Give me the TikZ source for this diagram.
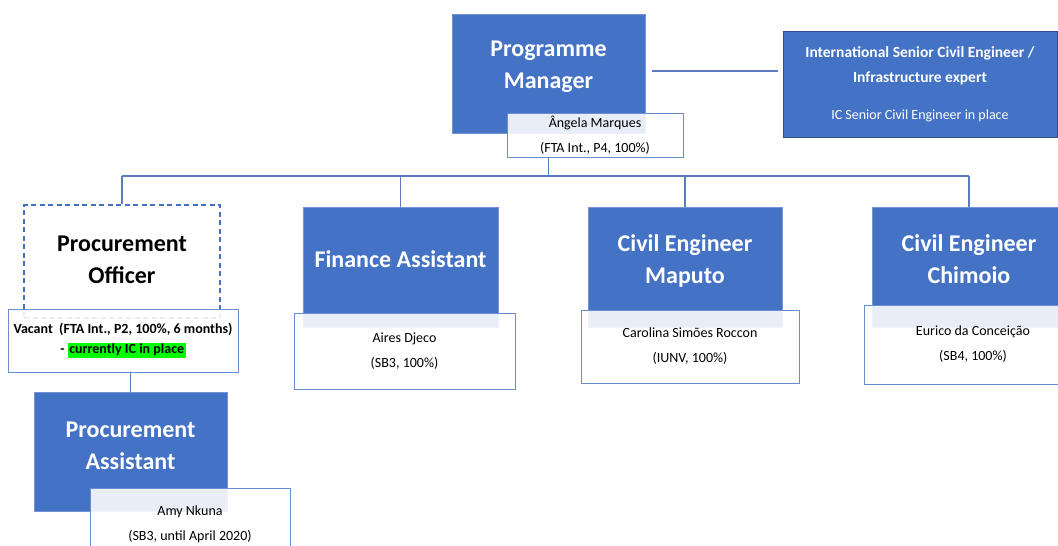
\documentclass[tikz,border=0pt]{standalone}
\usepackage{fontspec}
\setmainfont{Carlito}
\definecolor{boxblue}{HTML}{4472C4}
\definecolor{edgeblue}{HTML}{2F528F}
\definecolor{lineblue}{HTML}{5A7BBE}
\definecolor{hlgreen}{HTML}{00FF00}

\tikzset{
  post/.style={draw=boxblue!75, fill=boxblue, line width=0.8pt, inner sep=0pt},
  vacant/.style={draw=boxblue, dash pattern=on 5pt off 3.5pt, line width=1.5pt, inner sep=0pt},
  title/.style={text=white, font=\fontsize{24}{32}\selectfont\bfseries, align=center},
  holder/.style={draw=boxblue!80, fill=white, fill opacity=0.88, text opacity=1,
    line width=0.9pt, inner sep=0pt, align=center, font=\fontsize{14}{25}\selectfont},
  conn/.style={draw=lineblue, line width=1.6pt}
}

\begin{document}
\begin{tikzpicture}[x=1pt,y=-1pt]
  \useasboundingbox (0,0) rectangle (1058,546);
  % programme manager and expert
  \node[post, minimum width=193pt, minimum height=119pt] (pm) at (548.5,73.5) {};
  \node[title] (pm-t) at (548.5,67) {Programme\\Manager};
  \node[holder, minimum width=176pt, minimum height=44pt] (pm-n) at (595,135) {Ângela Marques\\(FTA Int., P4, 100\%)};
  \node[post, draw=edgeblue, minimum width=274pt, minimum height=106pt, align=center, text=white,
    font=\fontsize{14}{25}\selectfont] (isce) at (920,84)
    {\textbf{\fontsize{15.5}{25}\selectfont International Senior Civil Engineer /}\\
     \textbf{\fontsize{15.5}{25}\selectfont Infrastructure expert}\\[12pt]IC Senior Civil Engineer in place};

  % procurement
  \node[vacant, minimum width=196pt, minimum height=113pt] (po) at (122,261.5) {};
  \node[title, text=black] (po-t) at (122,259.5) {Procurement\\Officer};
  \node[holder, minimum width=230pt, minimum height=63pt, font=\fontsize{14}{20}\selectfont\bfseries] (po-n) at (123,340.5)
    {Vacant~~(FTA Int., P2, 100\%, 6 months)\\- \setlength{\fboxsep}{1.5pt}\colorbox{hlgreen}{currently IC in place}};
  \node[post, minimum width=193pt, minimum height=119pt] (pa) at (130.5,451.5) {};
  \node[title] (pa-t) at (130.5,445.5) {Procurement\\Assistant};
  \node[holder, minimum width=200pt, minimum height=72pt] (pa-n) at (190,524) {Amy Nkuna\\(SB3, until April 2020)};

  % finance and engineers
  \node[post, minimum width=195pt, minimum height=120pt] (fa) at (400.5,267) {};
  \node[title] (fa-t) at (400.5,259) {Finance Assistant};
  \node[holder, minimum width=221pt, minimum height=76pt] (fa-n) at (404.5,351) {Aires Djeco\\(SB3, 100\%)};
  \node[post, minimum width=194pt, minimum height=120pt] (mp) at (685,267) {};
  \node[title] (mp-t) at (685,261) {Civil Engineer\\Maputo};
  \node[holder, minimum width=218pt, minimum height=73pt] (mp-n) at (690,346.5) {Carolina Simões Roccon\\(IUNV, 100\%)};
  \node[post, minimum width=194pt, minimum height=120pt] (ch) at (969,267) {};
  \node[title] (ch-t) at (969,259.5) {Civil Engineer\\Chimoio};
  \node[holder, minimum width=218pt, minimum height=79pt] (ch-n) at (973,344.5) {Eurico da Conceição\\(SB4, 100\%)};

  % lines
  \coordinate (pm-r) at ([yshift=2.5pt]pm.east);
  \coordinate (isce-l) at (isce.west |- pm-r);
  \draw[conn] ([xshift=7pt]pm-r) -- ([xshift=-5pt]isce-l);
  \coordinate (bus) at (548.5,176);
  \draw[conn] (pm.south |- pm-n.south) -- (bus);
  \draw[conn] (bus -| po.north) -- (bus -| ch.north);
  \foreach \n in {po,fa,mp,ch}
    \draw[conn] (bus -| \n.north) -- (\n.north);
  \draw[conn] (pa.north |- po-n.south) -- (pa.north);
\end{tikzpicture}
\end{document}
